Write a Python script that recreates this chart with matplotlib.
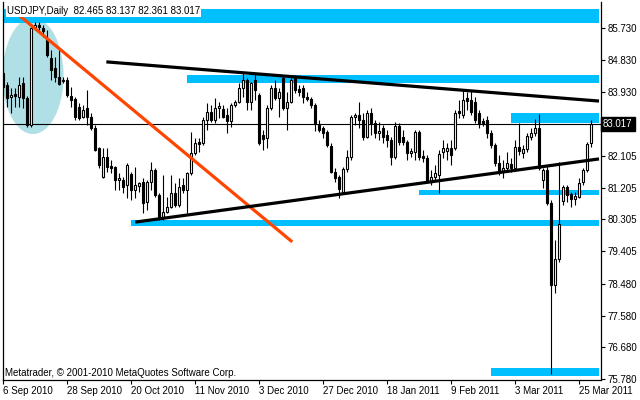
import matplotlib
matplotlib.use('Agg')
import matplotlib.pyplot as plt
import matplotlib.transforms as mtransforms
from matplotlib.patches import Ellipse, Rectangle
import numpy as np

# USDJPY daily candles, 6 Sep 2010 - 30 Mar 2011 (weekdays)
opens = [84.46, 84.11, 83.77, 83.86, 83.77, 84.17, 83.75, 82.98, 85.73, 85.82,
         85.73, 85.45, 84.88, 84.60, 84.34, 84.23, 84.26, 83.80, 83.72, 83.49,
         83.21, 83.46, 83.21, 82.90, 82.33, 81.51, 82.08, 81.82, 81.79, 81.42,
         81.42, 81.28, 81.59, 81.14, 81.26, 81.37, 80.79, 81.37, 81.70, 80.99,
         80.37, 80.51, 80.65, 81.06, 80.71, 81.28, 81.14, 81.62, 82.19, 82.50,
         82.47, 83.12, 83.35, 83.12, 83.46, 83.43, 83.27, 83.10, 83.55, 83.63,
         84.03, 84.26, 83.63, 84.26, 83.83, 82.70, 82.61, 83.46, 84.03, 83.75,
         84.31, 83.46, 83.63, 84.31, 84.00, 84.03, 83.77, 83.72, 83.55, 82.98,
         82.90, 82.78, 82.39, 81.65, 81.51, 81.09, 81.74, 82.08, 83.21, 83.27,
         83.12, 82.64, 83.32, 83.04, 82.76, 82.90, 82.70, 82.56, 82.08, 82.95,
         82.64, 82.50, 82.19, 82.22, 82.78, 82.10, 82.05, 81.37, 81.51, 81.56,
         82.22, 82.24, 82.33, 82.33, 83.38, 83.27, 83.75, 83.69, 83.63, 83.32,
         83.10, 83.12, 82.76, 82.41, 81.91, 81.65, 81.76, 81.88, 81.76, 82.36,
         82.19, 82.30, 82.64, 82.76, 82.90, 81.42, 81.70, 80.77, 78.44, 79.18,
         80.82, 81.23, 81.03, 80.88, 80.94, 81.37, 81.70, 82.465]
highs = [84.54, 84.20, 84.03, 84.03, 84.34, 84.34, 83.80, 85.76, 85.90, 85.90,
         85.82, 85.67, 85.11, 84.91, 85.11, 84.34, 84.34, 84.06, 83.77, 83.60,
         83.55, 83.97, 83.32, 82.98, 82.36, 82.33, 82.33, 81.99, 81.82, 81.62,
         81.51, 81.91, 81.65, 81.79, 81.37, 81.48, 81.42, 81.93, 81.76, 81.06,
         81.56, 80.94, 81.56, 81.34, 81.48, 81.48, 81.65, 82.78, 82.61, 82.61,
         83.21, 83.60, 83.55, 83.75, 83.63, 83.55, 83.46, 83.60, 83.69, 84.17,
         84.46, 84.31, 84.20, 84.46, 83.89, 82.84, 83.55, 84.11, 84.26, 84.03,
         84.40, 83.92, 84.40, 84.40, 84.11, 84.11, 83.92, 83.77, 83.60, 83.12,
         82.95, 82.84, 82.47, 81.76, 81.56, 81.79, 82.27, 83.27, 83.32, 83.63,
         83.32, 83.41, 83.46, 83.12, 83.07, 82.98, 82.84, 82.64, 83.07, 83.04,
         82.84, 82.56, 82.33, 82.84, 82.84, 82.27, 82.13, 81.70, 81.85, 82.27,
         82.56, 82.47, 82.56, 83.41, 83.69, 83.97, 83.92, 83.97, 83.77, 83.41,
         83.18, 83.24, 82.84, 82.47, 82.13, 81.99, 82.22, 82.05, 82.56, 83.04,
         82.41, 82.76, 82.90, 83.15, 83.29, 81.76, 81.85, 80.85, 79.72, 81.93,
         81.28, 81.28, 81.09, 81.09, 81.48, 81.76, 82.50, 83.137]
lows = [83.97, 83.49, 83.32, 83.49, 83.49, 83.46, 82.93, 82.93, 85.67, 85.62,
        85.48, 84.91, 84.26, 84.20, 84.11, 84.17, 83.77, 83.49, 83.12, 83.12,
        83.18, 82.98, 82.84, 82.24, 81.76, 81.48, 81.65, 81.62, 81.14, 81.14,
        81.06, 80.91, 80.85, 80.91, 81.09, 80.48, 80.57, 81.14, 80.94, 80.29,
        80.29, 80.48, 80.62, 80.65, 80.65, 81.06, 80.48, 81.56, 82.13, 82.22,
        82.41, 82.84, 83.07, 83.04, 83.18, 83.18, 82.76, 82.93, 83.49, 83.60,
        83.77, 83.41, 83.41, 83.69, 82.41, 82.27, 82.33, 83.41, 83.69, 83.21,
        83.41, 82.84, 83.60, 83.89, 83.80, 83.60, 83.66, 83.46, 82.81, 82.78,
        82.61, 82.36, 81.62, 81.37, 80.91, 81.03, 81.65, 81.99, 82.98, 82.90,
        82.56, 82.61, 82.70, 82.61, 82.56, 82.47, 82.36, 81.85, 82.02, 82.41,
        82.41, 81.99, 82.08, 81.99, 81.99, 81.93, 81.34, 81.28, 81.42, 81.06,
        82.05, 81.99, 81.85, 82.27, 83.18, 83.18, 83.41, 83.27, 83.04, 82.90,
        82.95, 82.61, 82.33, 81.82, 81.56, 81.48, 81.65, 81.65, 81.70, 82.13,
        82.05, 82.22, 82.56, 82.67, 81.70, 81.20, 80.71, 75.92, 78.21, 79.09,
        80.71, 80.79, 80.65, 80.71, 80.91, 81.28, 81.65, 82.361]
closes = [84.06, 83.75, 83.83, 83.80, 84.11, 83.75, 82.98, 85.73, 85.82, 85.76,
          85.65, 84.96, 84.54, 84.34, 84.14, 84.26, 83.83, 83.69, 83.21, 83.18,
          83.41, 83.21, 82.90, 82.27, 81.85, 82.08, 81.79, 81.76, 81.42, 81.48,
          81.23, 81.85, 81.14, 81.28, 81.34, 80.77, 81.37, 81.70, 80.99, 80.34,
          80.51, 80.65, 81.06, 80.71, 81.23, 81.14, 81.62, 82.19, 82.47, 82.44,
          83.12, 83.35, 83.12, 83.46, 83.52, 83.21, 83.10, 83.55, 83.63, 84.03,
          84.26, 83.63, 84.17, 83.97, 82.47, 82.59, 83.46, 84.03, 83.75, 83.92,
          83.46, 83.63, 84.26, 83.97, 83.92, 83.77, 83.72, 83.55, 83.04, 82.84,
          82.76, 82.41, 81.65, 81.48, 81.17, 81.74, 82.08, 83.21, 83.27, 83.12,
          82.64, 83.32, 83.04, 82.76, 82.81, 82.64, 82.56, 82.08, 82.95, 82.50,
          82.50, 82.19, 82.24, 82.78, 82.08, 82.05, 81.37, 81.51, 81.62, 82.16,
          82.33, 82.33, 82.13, 83.32, 83.32, 83.69, 83.66, 83.35, 83.12, 83.04,
          83.04, 82.76, 82.41, 81.91, 81.65, 81.76, 81.91, 81.76, 82.36, 82.24,
          82.30, 82.67, 82.76, 82.90, 81.76, 81.70, 80.77, 78.44, 79.18, 80.17,
          81.23, 80.99, 80.88, 80.97, 81.34, 81.70, 82.44, 83.017]

date_labels = ['6 Sep 2010', '28 Sep 2010', '20 Oct 2010', '11 Nov 2010', '3 Dec 2010',
               '27 Dec 2010', '18 Jan 2011', '9 Feb 2011', '3 Mar 2011', '25 Mar 2011']
bars_per_label = 16
price_ticks = [85.730, 84.830, 83.930, 82.105, 81.205, 80.305, 79.405, 78.480,
               77.580, 76.680, 75.780]
last_price = 83.017
header = 'USDJPY,Daily  82.465 83.137 82.361 83.017'

# support / resistance zones: start bar, lower price, upper price
zone_start = [-0.5, 46, 127, 104, 32, 122]
zone_lo = [85.88, 84.16, 83.05, 80.99, 80.13, 75.87]
zone_hi = [86.26, 84.40, 83.33, 81.14, 80.29, 76.10]

# trend lines: (bar, price) end points
orange_line = ([2.0, 72.25], [86.27, 79.67])
upper_line = ([25.75, 149.0], [84.77, 83.66])
lower_line = ([33.0, 149.0], [80.23, 82.02])

# ------------------------------------------------------------------
plt.rcParams['font.family'] = ['Liberation Sans', 'DejaVu Sans']
fig = plt.figure(figsize=(6.4, 4.0), dpi=100)
ax = fig.add_axes([3 / 640, 20 / 400, 598 / 640, 378 / 400])

idx = np.arange(len(opens))
o = np.array(opens)
c = np.array(closes)
h = np.array(highs)
l = np.array(lows)
n_bars = len(opens)
x_right = n_bars + 1.5

# circled zone
ax.add_patch(Ellipse((7.4, 84.37), width=15.3, height=3.29,
                     facecolor='#b0dfe6', edgecolor='none', zorder=1))

for s, lo, hi in zip(zone_start, zone_lo, zone_hi):
    ax.add_patch(Rectangle((s, lo), n_bars + 1 - s, hi - lo,
                           facecolor='#00bfff', edgecolor='none', zorder=2))

ax.axhline(last_price, color='black', lw=0.8, zorder=3)

# candles
ax.vlines(idx, l, h, color='black', lw=0.8, zorder=4)
up = c >= o
body_lo = np.minimum(o, c)
body_h = np.abs(c - o)
ax.bar(idx[up], body_h[up], bottom=body_lo[up], width=0.5,
       color='white', edgecolor='black', linewidth=0.8, zorder=5)
ax.bar(idx[~up], body_h[~up], bottom=body_lo[~up], width=0.5,
       color='black', edgecolor='black', linewidth=0.8, zorder=5)

ax.plot(*orange_line, color='#ff4500', lw=2.3, solid_capstyle='butt', zorder=6)
ax.plot(*upper_line, color='black', lw=2.3, solid_capstyle='butt', zorder=6)
ax.plot(*lower_line, color='black', lw=2.3, solid_capstyle='butt', zorder=6)

ax.set_xlim(-0.1, x_right)
ax.set_ylim(75.755, 86.467)

ax.set_xticks(np.arange(len(date_labels)) * bars_per_label)
ax.set_xticklabels(date_labels, ha='left')
ax.set_yticks(price_ticks)
ax.set_yticklabels([f'{p:.3f}' for p in price_ticks])
ax.yaxis.tick_right()
ax.tick_params(axis='both', direction='out', length=3, width=0.8,
               labelsize=7, colors='black', pad=2)
ax.tick_params(axis='x', pad=1)
for side in ['left', 'right', 'bottom']:
    ax.spines[side].set_linewidth(0.9)
ax.spines['top'].set_visible(False)

trans = mtransforms.blended_transform_factory(ax.transAxes, ax.transData)
ax.text(1.0 + 2 / 598, last_price, f'{last_price:.3f}', transform=trans,
        ha='left', va='center', fontsize=7, color='white',
        bbox=dict(facecolor='black', edgecolor='black', pad=1.5), zorder=10)

fig.text(7 / 640, 1 - 11 / 400, header, fontsize=7, ha='left', va='center',
         bbox=dict(facecolor='white', edgecolor='none', pad=1.0), zorder=10)
fig.text(5 / 640, 1 - 373 / 400, 'Metatrader, © 2001-2010 MetaQuotes Software Corp.',
         fontsize=7, ha='left', va='center', zorder=10)

fig.savefig('out.png', dpi=100, facecolor='white')
